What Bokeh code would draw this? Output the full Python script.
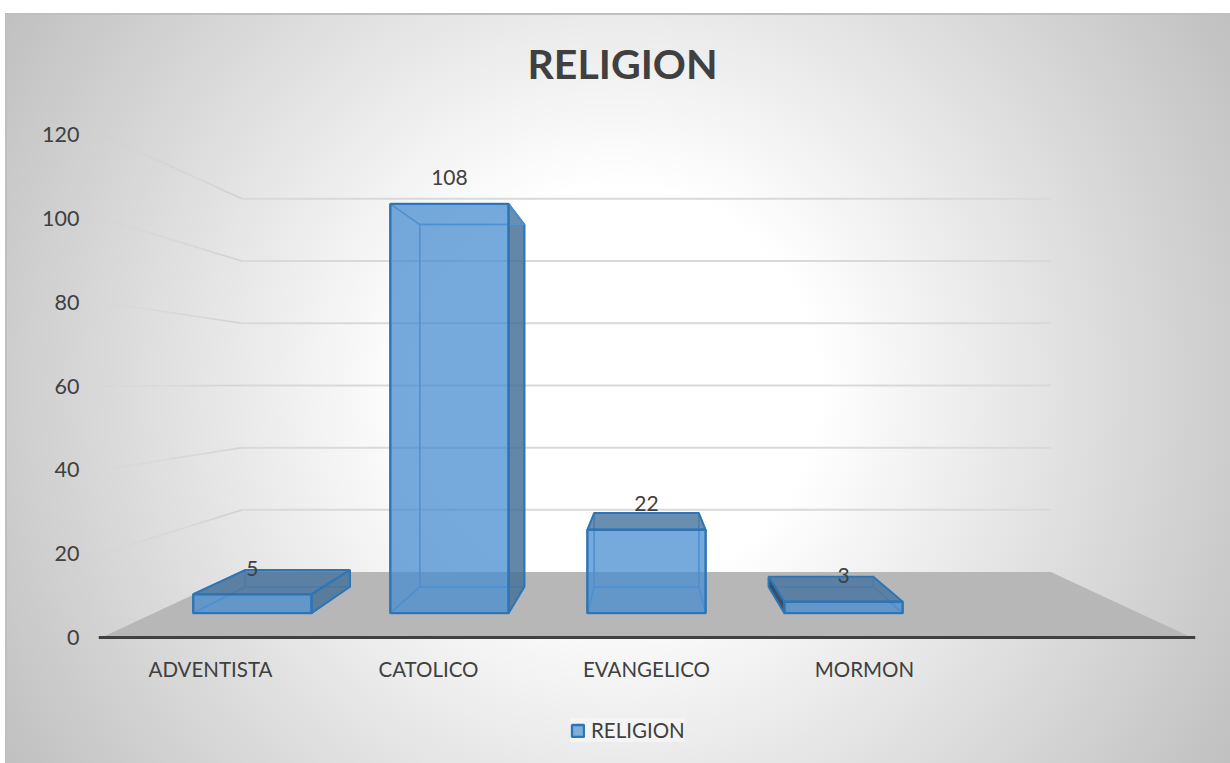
from bokeh.plotting import figure
from bokeh.embed import file_html
from bokeh.resources import INLINE
from bokeh.models import Range1d, FixedTicker, Legend, LegendItem, ColumnDataSource
from bokeh.core.properties import value

categories = ["ADVENTISTA", "CATOLICO", "EVANGELICO", "MORMON"]
series_name = "RELIGION"
religion = [5, 108, 22, 3]
y_ticks = [0, 20, 40, 60, 80, 100, 120]
positions = [0, 1, 2, 3]

# perspective model (front plane units: category slots / axis values)
CX, VY = 2.0, 60.5
S_WALL, S_FRONT, S_REAR = 0.742, 0.904, 0.80
HALF_BAR = 0.30
FLOOR_L, FLOOR_R = -0.5, 4.5
FONT = "Lato"
INK = "#404040"
PX_PER_UNIT = 503 / 120


def P(x, v, s):
    return CX + (x - CX) * s, VY + (v - VY) * s


p = figure(
    width=1230, height=763, output_backend="svg", toolbar_location=None,
    x_range=Range1d(-0.5 - 3 / 218, 4.5 + 4 / 218),
    y_range=Range1d(-126 / PX_PER_UNIT, 120 + 11 / PX_PER_UNIT),
    min_border_left=98, min_border_right=35, min_border_top=123, min_border_bottom=0,
    frame_width=1097, frame_height=640,
    background_fill_color=None, border_fill_color=None, outline_line_color=None,
    styles={"background": "linear-gradient(#bfbfbf,#bfbfbf) no-repeat 5px 13px / 100% 2px, "
                          "linear-gradient(#bfbfbf,#bfbfbf) no-repeat 5px 13px / 2px 100%, "
                          "radial-gradient(circle farthest-corner at 50% 50%, #ffffff 0%, #ffffff 28%, #c0c0c0 100%) "
                          "no-repeat 5px 13px / 1225px 750px"},
)
p.grid.visible = False

# title
p.title.text = series_name
p.title.text_font = FONT
p.title.text_font_size = "41px"
p.title.text_font_style = "bold"
p.title.text_color = INK
p.title.align = "left"
p.title.offset = 429
p.title.standoff = 72

# axes
p.yaxis.ticker = FixedTicker(ticks=y_ticks)
p.yaxis.axis_line_color = None
p.yaxis.major_tick_line_color = None
p.yaxis.minor_tick_line_color = None
p.yaxis.major_label_text_font = FONT
p.yaxis.major_label_text_font_size = "21.5px"
p.yaxis.major_label_text_color = INK
p.yaxis.major_label_standoff = 13

p.xaxis.fixed_location = 0
p.xaxis.ticker = FixedTicker(ticks=positions)
p.xaxis.major_label_overrides = {i: c for i, c in zip(positions, categories)}
p.xaxis.axis_line_color = INK
p.xaxis.axis_line_width = 3
p.xaxis.major_tick_line_color = None
p.xaxis.minor_tick_line_color = None
p.xaxis.major_label_text_font = FONT
p.xaxis.major_label_text_font_size = "20.5px"
p.xaxis.major_label_text_color = INK
p.xaxis.major_label_standoff = 13

# left wall grid lines, fading toward the viewer
N = 14
wx, wy, wa = [], [], []
for t in y_ticks[1:]:
    for i in range(N):
        s0 = S_WALL + (1 - S_WALL) * i / N
        s1 = S_WALL + (1 - S_WALL) * (i + 1) / N
        a = P(FLOOR_L, t, s0)
        b = P(FLOOR_L, t, s1)
        wx.append([a[0], b[0]])
        wy.append([a[1], b[1]])
        wa.append(max(0.0, 0.9 * (1 - (i + 0.5) / N)))
p.multi_line(wx, wy, line_color="#cfcfcf", line_width=1.6, line_alpha=wa)

# back wall grid lines
bx, by = [], []
for t in y_ticks[1:]:
    a = P(FLOOR_L, t, S_WALL)
    b = P(FLOOR_R, t, S_WALL)
    bx.append([a[0], b[0]])
    by.append([a[1], b[1]])
p.multi_line(bx, by, line_color="#d9d9d9", line_width=2)

# floor
floor = [P(FLOOR_L, 0, 1), P(FLOOR_L, 0, S_WALL), P(FLOOR_R, 0, S_WALL), P(FLOOR_R, 0, 1)]
p.patch([c[0] for c in floor], [c[1] for c in floor], fill_color="#b7b7b7", line_color=None)


def quad(x0, x1, v0, v1, s0, s1, kind):
    if kind == "front":
        pts = [P(x0, v0, s0), P(x1, v0, s0), P(x1, v1, s0), P(x0, v1, s0)]
    elif kind == "back":
        pts = [P(x0, v0, s1), P(x1, v0, s1), P(x1, v1, s1), P(x0, v1, s1)]
    elif kind == "bottom":
        pts = [P(x0, v0, s0), P(x1, v0, s0), P(x1, v0, s1), P(x0, v0, s1)]
    elif kind == "top":
        pts = [P(x0, v1, s0), P(x1, v1, s0), P(x1, v1, s1), P(x0, v1, s1)]
    elif kind == "left":
        pts = [P(x0, v0, s0), P(x0, v1, s0), P(x0, v1, s1), P(x0, v0, s1)]
    else:
        pts = [P(x1, v0, s0), P(x1, v1, s0), P(x1, v1, s1), P(x1, v0, s1)]
    return [c[0] for c in pts], [c[1] for c in pts]


HIDDEN = ("#5b9bd5", 0.25, "#5b9bd5", 1.5, 0.7)
front_renderer = None
for x, v in zip(positions, religion):
    x0, x1 = x - HALF_BAR, x + HALF_BAR
    exposed = {"top": v < VY, "left": x0 > CX, "right": x1 < CX}
    dark = {"top": ("#46709a", 0.75, "#2e75b6", 2.0, 1.0),
            "left": ("#26405c", 0.85, "#2e75b6", 2.0, 1.0),
            "right": ("#466f94", 0.8, "#2e75b6", 2.0, 1.0)}
    for kind in ["bottom", "back", "left", "right", "top"]:
        fill, alpha, edge, lw, la = dark[kind] if exposed.get(kind) else HIDDEN
        xs, ys = quad(x0, x1, 0, v, S_FRONT, S_REAR, kind)
        p.patch(xs, ys, fill_color=fill, fill_alpha=alpha, line_color=edge, line_width=lw, line_alpha=la)
    xs, ys = quad(x0, x1, 0, v, S_FRONT, S_REAR, "front")
    front_renderer = p.patch(xs, ys, fill_color="#4289d0", fill_alpha=0.65,
                             line_color="#2e75b6", line_width=2.4)

# data labels
lab = [P(x, v, S_FRONT) for x, v in zip(positions, religion)]
src = ColumnDataSource(dict(x=[c[0] for c in lab], y=[c[1] for c in lab],
                            t=[str(v) for v in religion]))
p.text("x", "y", text="t", source=src, text_font=value(FONT), text_font_size="21px",
       text_color=INK, text_align="center", text_baseline="middle", y_offset=-26)

# legend
legend = Legend(items=[LegendItem(label=series_name, renderers=[front_renderer])],
                location=(472, 21), orientation="horizontal",
                glyph_width=15, glyph_height=15, label_standoff=6,
                label_text_font=FONT, label_text_font_size="20.5px", label_text_color=INK,
                padding=8, margin=0, spacing=0,
                background_fill_color="#f6f6f6", background_fill_alpha=0.7,
                border_line_color=None)
p.add_layout(legend, "center")

open("out.html", "w").write(file_html(p, INLINE))
